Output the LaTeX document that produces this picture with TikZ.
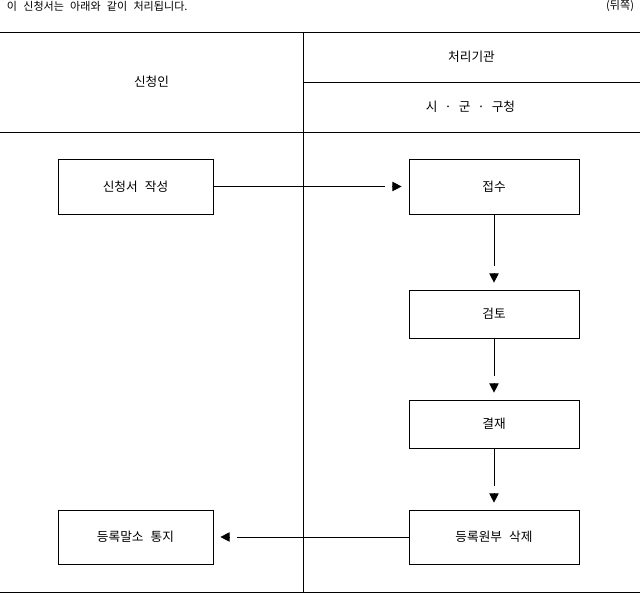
\documentclass[tikz,border=0pt]{standalone}
\usepackage{fontspec}
\setmainfont{Noto Sans CJK KR}[WordSpace=2.5]
\usetikzlibrary{positioning, arrows.meta}

\begin{document}
\begin{tikzpicture}[
  x=0.75pt, y=-0.75pt,
  font=\fontsize{9.5}{11}\selectfont,
  line width=0.75pt,
  % Estilos de bloques
  box/.style={draw, rectangle, minimum width=127.5pt, minimum height=36pt, inner sep=0pt, outer sep=0pt},
  sidebox/.style={box, minimum width=116.25pt},
  small/.style={font=\fontsize{8.3}{10}\selectfont},
  % Estilos de flechas
  line/.style={draw, -{Rectangle[length=5.5pt, width=2pt, color=white] Triangle[length=7pt, width=7pt]}, shorten >=5.5pt}
]
  \useasboundingbox (0,0) rectangle (640,593);

  % ==========================================
  % FORM TABLE
  % ==========================================
  \draw (0,32) -- (640,32);
  \draw (303,82) -- (640,82);
  \draw (0,132) -- (640,132);
  \draw (0,592) -- (640,592);
  \draw (303,32) -- (303,592);

  \node[small, anchor=west] (nota) at (2,6) {이 신청서는 아래와 같이 처리됩니다.};
  \node[small, anchor=east] (lado) at (639,6) {(뒤쪽)};
  \node (solicitante) at (151.5,82) {신청인};
  \node (organo) at (471.5,57) {처리기관};
  \node (oficina) at (470.5,107) {시 · 군 · 구청};

  % ==========================================
  % PROCESSING FLOW
  % ==========================================
  \node[box, minimum height=41.25pt] (recepcion) at (494,186.5) {접수};
  \node[box, below=57pt of recepcion] (revision) {검토};
  \node[box, below=46.5pt of revision] (aprobacion) {결재};
  \node[box, minimum height=40.5pt, below=46.5pt of aprobacion] (borrado) {등록원부 삭제};

  \node[sidebox, minimum height=41.25pt, left=147pt of recepcion] (solicitud) {신청서 작성};
  \node[sidebox, minimum height=40.5pt, left=147pt of borrado] (aviso) {등록말소 통지};

  \draw[line] (solicitud) -- (recepcion);
  \draw[line] (recepcion) -- (revision);
  \draw[line] (revision) -- (aprobacion);
  \draw[line] (aprobacion) -- (borrado);
  \draw[line] (borrado) -- (aviso);

\end{tikzpicture}
\end{document}
